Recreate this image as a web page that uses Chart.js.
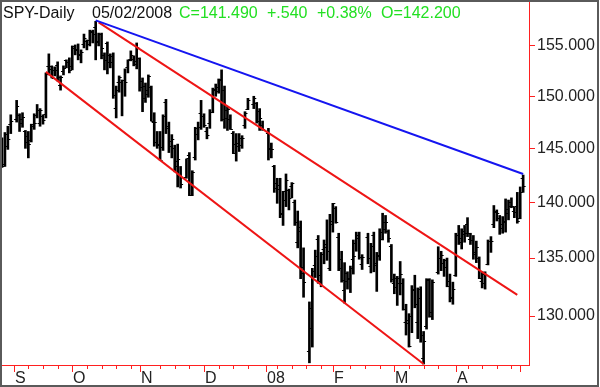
<!DOCTYPE html>
<html>
<head>
<meta charset="utf-8">
<script src="https://cdn.jsdelivr.net/npm/chart.js@4.4.1/dist/chart.umd.min.js"></script>
<style>
  html, body { margin: 0; padding: 0; background: #fff; }
  #wrap { position: relative; width: 600px; height: 387px; }
</style>
</head>
<body>
<div id="wrap"><canvas id="chart" width="600" height="387"></canvas></div>
<script>
// SPY daily, 28 Aug 2007 .. 2 May 2008 (one entry per trading day)
const symbol = 'SPY-Daily';
const lastDate = '05/02/2008';
const holidays = ['2007-09-03', '2007-11-22', '2007-12-25', '2008-01-01', '2008-01-21', '2008-02-18', '2008-03-21'];

const opens = [
  145.9, 143.5, 145.2, 147.3,
  147.8, 148.2, 147.8, 146.6, 146.2, 145.8, 147.1, 148.2, 147.4, 148.1, 148.3, 153.0, 152.7, 152.6, 153.1, 151.1, 152.5, 153.6, 153.4,
  153.0, 155.0, 154.6, 154.2, 155.2, 155.5, 155.6, 156.4, 156.9, 155.5, 156.2, 154.1, 155.3, 153.4, 153.4, 148.9, 151.4, 151.4, 151.6, 152.9, 153.7, 153.7, 153.5,
  153.8, 151.5, 149.8, 150.6, 150.9, 147.5, 145.6, 145.3, 145.1, 149.4, 146.9, 145.7, 145.0, 143.8, 142.6, 142.3, 144.4, 141.7, 144.2, 146.4, 148.4,
  148.1, 146.6, 147.4, 148.5, 150.6, 150.9, 151.7, 150.6, 147.9, 147.8, 146.5, 145.4, 145.2, 146.0, 147.2, 148.8, 149.2, 149.3, 148.6, 147.2,
  146.5, 145.0, 143.3, 141.8, 141.6, 139.0, 140.2, 141.1, 141.5, 140.0, 136.4, 137.8, 134.2, 127.1, 129.0, 134.4, 136.7, 133.5, 135.8, 136.2, 134.1,
  138.3, 139.5, 136.9, 134.9, 132.2, 133.0, 133.2, 134.9, 136.3, 136.8, 134.5, 136.9, 134.3, 137.0, 134.6, 135.2, 136.7, 137.6, 137.4, 136.1,
  132.8, 132.5, 133.3, 132.8, 129.5, 129.7, 130.0, 132.2, 129.5, 132.3, 126.5, 129.2, 133.1, 130.3, 133.8, 135.0, 134.6, 134.8, 133.0, 131.6,
  133.5, 137.0, 136.4, 137.4, 138.0, 136.7, 136.6, 135.4, 135.0, 133.0, 133.6, 134.5, 136.5, 138.0, 139.1, 138.6, 138.0, 138.3, 139.4, 139.7, 139.2, 139.7,
  138.6, 142.2
];
const highs = [
  146.0, 146.5, 147.1, 148.2,
  149.6, 148.3, 148.4, 146.7, 146.6, 147.3, 148.3, 149.2, 148.8, 148.2, 152.3, 154.2, 153.0, 152.9, 153.4, 152.0, 153.0, 153.6, 153.8,
  155.0, 155.1, 155.2, 154.6, 156.2, 155.6, 156.6, 156.6, 157.5, 156.3, 156.3, 154.3, 155.4, 154.2, 154.3, 151.0, 152.0, 151.6, 152.7, 153.6, 154.5, 154.0, 155.3,
  153.8, 151.8, 151.3, 152.1, 151.0, 148.4, 146.6, 146.6, 148.2, 149.7, 147.5, 146.3, 145.3, 145.4, 143.3, 144.0, 144.6, 142.9, 147.0, 147.5, 149.6,
  148.3, 147.0, 148.7, 150.8, 151.2, 151.7, 152.6, 151.0, 149.0, 148.2, 146.6, 146.4, 146.4, 146.2, 148.5, 149.8, 150.0, 149.4, 148.8, 147.6,
  146.9, 145.5, 143.4, 142.2, 142.2, 141.0, 142.6, 141.2, 141.8, 140.2, 139.2, 138.3, 135.9, 131.2, 134.1, 135.7, 137.0, 135.5, 136.6, 138.4, 138.9,
  139.9, 139.6, 137.2, 135.6, 134.6, 133.8, 134.3, 136.6, 137.3, 137.3, 135.3, 137.2, 136.3, 137.3, 135.5, 137.6, 139.0, 138.8, 137.5, 136.2,
  133.6, 133.4, 134.7, 133.2, 131.0, 130.2, 132.6, 133.5, 132.4, 132.5, 128.7, 133.2, 133.2, 133.1, 136.0, 135.6, 134.9, 135.0, 133.6, 132.9,
  137.2, 137.9, 137.6, 137.9, 138.6, 137.2, 137.0, 136.5, 135.1, 133.8, 133.8, 136.6, 136.9, 139.7, 139.3, 138.8, 138.7, 140.3, 140.2, 140.4, 139.6, 140.9,
  141.4, 142.5
];
const lows = [
  143.2, 143.3, 144.9, 146.4,
  147.5, 146.6, 147.0, 145.0, 144.1, 145.6, 146.8, 147.9, 147.1, 147.3, 147.9, 152.1, 151.8, 152.0, 151.5, 150.6, 152.1, 152.8, 152.3,
  152.6, 154.1, 153.6, 153.3, 154.8, 154.6, 155.0, 155.3, 153.6, 155.0, 153.7, 152.6, 152.2, 152.8, 149.8, 147.9, 150.4, 148.1, 150.0, 152.3, 153.5, 153.0, 152.7,
  150.5, 148.5, 149.4, 149.9, 147.6, 145.2, 145.0, 143.9, 144.8, 146.4, 144.6, 144.1, 142.8, 141.4, 141.3, 142.2, 140.6, 140.6, 143.9, 145.8, 146.8,
  147.0, 145.9, 146.9, 148.4, 150.0, 150.3, 147.6, 146.9, 146.7, 146.8, 144.5, 143.8, 144.7, 145.0, 146.9, 148.7, 148.8, 147.4, 146.7, 146.7,
  143.9, 144.1, 140.9, 139.9, 138.6, 137.9, 139.6, 139.3, 140.4, 137.9, 135.9, 133.2, 131.6, 126.1, 127.4, 133.3, 132.8, 132.5, 134.5, 134.8, 133.9,
  137.3, 138.1, 133.9, 132.9, 131.1, 132.3, 132.0, 133.6, 135.6, 134.9, 134.0, 134.5, 133.7, 133.8, 132.1, 134.8, 136.6, 137.2, 136.4, 132.9,
  131.9, 130.9, 131.8, 130.5, 128.4, 127.4, 128.6, 130.7, 128.1, 127.8, 126.0, 128.9, 129.9, 129.7, 133.6, 133.9, 133.4, 132.5, 131.2, 131.0,
  133.4, 136.2, 135.8, 136.4, 136.9, 136.2, 134.9, 134.6, 133.2, 132.4, 132.3, 134.4, 135.5, 137.7, 138.3, 137.1, 137.2, 137.3, 138.4, 139.5, 138.6, 138.1,
  138.5, 140.9
];
const closes = [
  143.3, 146.4, 145.9, 147.6,
  149.1, 147.4, 148.0, 145.6, 145.4, 147.3, 147.4, 148.7, 148.7, 147.7, 152.2, 153.0, 151.8, 152.6, 151.9, 151.9, 152.8, 153.4, 152.6,
  154.8, 154.7, 154.1, 154.4, 155.8, 155.2, 156.5, 156.2, 155.4, 156.2, 154.8, 153.6, 154.1, 154.0, 150.1, 150.6, 151.9, 151.6, 151.4, 153.6, 154.1, 153.2, 154.9,
  150.9, 151.0, 150.2, 152.0, 147.6, 147.5, 145.4, 143.9, 148.1, 147.1, 145.2, 145.9, 143.3, 144.0, 141.7, 144.1, 140.7, 142.8, 146.9, 147.0, 148.1,
  147.2, 146.3, 148.5, 150.7, 150.5, 151.6, 147.8, 148.7, 148.8, 146.8, 144.6, 145.5, 145.3, 146.0, 148.4, 149.6, 149.8, 147.6, 147.9, 146.8,
  144.9, 144.9, 141.3, 141.2, 138.9, 141.0, 142.0, 140.4, 141.8, 138.2, 137.4, 133.7, 132.9, 130.7, 133.9, 135.2, 133.0, 135.4, 136.0, 135.6, 138.0,
  139.9, 138.2, 134.1, 133.1, 133.7, 133.3, 134.1, 135.2, 137.0, 135.1, 135.1, 135.0, 136.1, 134.4, 135.3, 137.3, 138.2, 138.2, 136.8, 133.2,
  133.3, 132.8, 133.6, 130.6, 129.4, 127.5, 132.3, 131.0, 131.5, 128.4, 127.9, 133.2, 130.0, 132.9, 135.0, 135.3, 134.2, 132.6, 131.5, 132.3,
  137.0, 136.8, 137.1, 137.2, 137.2, 136.6, 135.5, 136.0, 133.3, 132.8, 133.5, 136.5, 136.5, 139.2, 139.0, 137.7, 138.2, 139.0, 140.0, 139.7, 139.1, 138.3,
  140.95, 141.49
];

// trend lines: [date, price] end points
const blueLine = [['2007-10-11', 157.6], ['2008-05-02', 142.6]];
const upperRed = [['2007-10-12', 157.4], ['2008-04-30', 131.8]];
const lowerRed = [['2007-09-18', 152.4], ['2008-03-17', 126.0]];

const yTicks = [130, 135, 140, 145, 150, 155];
const yMin = 125.92, yMax = 159.6;
const monthKeys = ['2007-09', '2007-10', '2007-11', '2007-12', '2008-01', '2008-02', '2008-03', '2008-04'];
const monthTicks = ['S', 'O', 'N', 'D', '08', 'F', 'M', 'A'];

// weekday slots (holidays keep an empty slot), plus two spare slots on the right
const labels = [];
const tradeIndex = [];
let d = new Date(Date.UTC(2007, 7, 28));
while (tradeIndex.length < closes.length) {
  const dow = d.getUTCDay();
  if (dow !== 0 && dow !== 6) {
    const key = d.toISOString().slice(0, 10);
    labels.push(key);
    if (!holidays.includes(key)) tradeIndex.push(labels.length - 1);
  }
  d.setUTCDate(d.getUTCDate() + 1);
}
labels.push('pad1', 'pad2');

const hiLo = labels.map(() => null);
tradeIndex.forEach((li, i) => { hiLo[li] = [lows[i], highs[i]]; });

const toXY = pts => pts.map(p => ({ x: p[0], y: p[1] }));
const FONT = '"Liberation Sans", Arial, sans-serif';
const AXIS_RED = '#ff2020';

const ohlcTicks = {
  id: 'ohlcTicks',
  afterDatasetDraw(chart, args) {
    if (args.index !== 3) return;
    const { ctx, scales: { x, y } } = chart;
    ctx.save();
    ctx.strokeStyle = '#000';
    ctx.lineWidth = 1;
    ctx.beginPath();
    tradeIndex.forEach((li, i) => {
      const px = x.getPixelForValue(li);
      const yo = Math.round(y.getPixelForValue(opens[i])) + 0.5;
      const yc = Math.round(y.getPixelForValue(closes[i])) + 0.5;
      ctx.moveTo(px - 2.5, yo); ctx.lineTo(px, yo);
      ctx.moveTo(px, yc); ctx.lineTo(px + 2.5, yc);
    });
    ctx.stroke();
    ctx.restore();
  }
};

const decor = {
  id: 'decor',
  afterDraw(chart) {
    const { ctx, chartArea, scales: { x } } = chart;
    const base = chartArea.bottom;
    ctx.save();
    // time axis ticks and month letters
    const monthStarts = [];
    labels.forEach((lab, i) => {
      if (i === 0 || lab.startsWith('pad')) return;
      if (lab.slice(0, 7) !== labels[i - 1].slice(0, 7)) monthStarts.push(i);
    });
    ctx.strokeStyle = AXIS_RED;
    ctx.lineWidth = 1;
    ctx.beginPath();
    labels.forEach((lab, i) => {
      if (lab.startsWith('pad')) return;
      const px = Math.round(x.getPixelForValue(i)) + 0.5;
      if (monthStarts.includes(i)) {
        ctx.moveTo(px, base); ctx.lineTo(px, base + 7);
      } else if (new Date(lab + 'T00:00:00Z').getUTCDay() === 1 &&
                 !monthStarts.some(m => Math.abs(m - i) <= 2)) {
        ctx.moveTo(px, base); ctx.lineTo(px, base + 4);
      }
    });
    ctx.stroke();
    ctx.fillStyle = '#222';
    ctx.font = '16px ' + FONT;
    ctx.textBaseline = 'alphabetic';
    ctx.textAlign = 'left';
    monthStarts.forEach(i => {
      const k = monthKeys.indexOf(labels[i].slice(0, 7));
      if (k < 0) return;
      ctx.fillText(monthTicks[k], Math.round(x.getPixelForValue(i)) + 1, base + 18);
    });

    // header line
    const n = closes.length - 1;
    const chg = closes[n] - closes[n - 1];
    const sign = chg >= 0 ? '+' : '-';
    const chgTxt = sign + Math.abs(chg).toFixed(3).replace(/^0/, '');
    const pctTxt = sign + Math.abs(chg / closes[n - 1] * 100).toFixed(2) + '%';
    ctx.fillStyle = '#111';
    ctx.fillText(symbol, 3, 18);
    ctx.fillText(lastDate, 92, 18);
    ctx.fillStyle = '#22e022';
    ctx.fillText('C=' + closes[n].toFixed(3), 179, 18);
    ctx.fillText(chgTxt, 267, 18);
    ctx.fillText(pctTxt, 317, 18);
    ctx.fillText('O=' + opens[n].toFixed(3), 381, 18);

    // frame
    ctx.strokeStyle = '#5a5a5a';
    ctx.lineWidth = 2;
    ctx.strokeRect(1, 1, chart.width - 3, chart.height - 2);
    ctx.restore();
  }
};

new Chart(document.getElementById('chart'), {
  type: 'bar',
  data: {
    labels: labels,
    datasets: [
      { type: 'line', data: toXY(blueLine), borderColor: '#1515f0', borderWidth: 2, pointRadius: 0, tension: 0 },
      { type: 'line', data: toXY(upperRed), borderColor: '#ee1515', borderWidth: 2, pointRadius: 0, tension: 0 },
      { type: 'line', data: toXY(lowerRed), borderColor: '#ee1515', borderWidth: 2, pointRadius: 0, tension: 0 },
      { type: 'bar', data: hiLo, backgroundColor: '#000', borderWidth: 0, barThickness: 2, borderSkipped: false }
    ]
  },
  options: {
    responsive: false,
    animation: false,
    layout: { padding: { top: 1, left: 2, right: 0, bottom: 0 } },
    plugins: { legend: { display: false }, tooltip: { enabled: false } },
    scales: {
      x: {
        type: 'category',
        offset: false,
        grid: { display: false, offset: false },
        ticks: { display: false },
        border: { color: AXIS_RED, width: 1 },
        afterFit: s => { s.height = 22; s.paddingLeft = 0; s.paddingRight = 0; }
      },
      y: {
        type: 'logarithmic',
        position: 'right',
        min: yMin,
        max: yMax,
        bounds: 'data',
        afterBuildTicks: s => { s.ticks = yTicks.map(v => ({ value: v })); },
        afterFit: s => { s.width = 71; s.paddingTop = 0; s.paddingBottom = 0; },
        grid: { drawOnChartArea: false, color: AXIS_RED, tickLength: 6, tickWidth: 1 },
        border: { color: AXIS_RED, width: 1 },
        ticks: {
          color: '#222',
          padding: 2,
          autoSkip: false,
          font: { family: FONT, size: 16 },
          callback: v => Number(v).toFixed(3)
        }
      }
    }
  },
  plugins: [ohlcTicks, decor]
});
</script>
</body>
</html>
